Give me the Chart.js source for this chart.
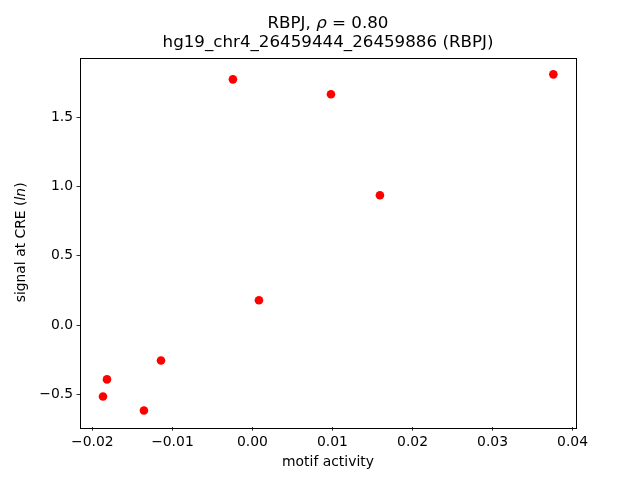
<!DOCTYPE html>
<html>
<head>
<meta charset="utf-8">
<script src="https://cdn.jsdelivr.net/npm/chart.js@4"></script>
<style>
  html, body { margin: 0; padding: 0; background: #fff; }
  #wrap { width: 640px; height: 480px; }
</style>
</head>
<body>
<div id="wrap"><canvas id="scatterChart" width="640" height="480"></canvas></div>
<script>
// motif activity vs signal at CRE
const motifActivity = [-0.00244, 0.00981, 0.0376, 0.01593, 0.00081, -0.01143, -0.01818, -0.01868, -0.01356];
const creSignal = [1.774, 1.666, 1.810, 0.937, 0.179, -0.255, -0.392, -0.515, -0.616];
const xTicks = [-0.02, -0.01, 0.00, 0.01, 0.02, 0.03, 0.04];
const yTicks = [-0.5, 0.0, 0.5, 1.0, 1.5];

const FONT = "'DejaVu Sans', sans-serif";

function fmt(v, d) {
  const s = Math.abs(v).toFixed(d);
  return v < -1e-9 ? '\u2212' + s : s;
}

// frame + titles + axis labels, matplotlib style
const decorations = {
  id: 'decorations',
  afterDraw(chart) {
    const ctx = chart.ctx;
    const a = chart.chartArea;
    ctx.save();
    ctx.strokeStyle = '#000';
    ctx.lineWidth = 1;
    ctx.strokeRect(Math.round(a.left) + 0.5, Math.round(a.top) + 0.5,
      Math.round(a.right - a.left), Math.round(a.bottom - a.top));

    ctx.fillStyle = '#000';
    ctx.textAlign = 'left';
    ctx.textBaseline = 'middle';
    const cx = (a.left + a.right) / 2;

    // title line 1: "RBPJ, ρ = 0.80" with italic rho
    const tSize = 16.7;
    const parts = [
      { t: 'RBPJ, ', f: `${tSize}px ${FONT}` },
      { t: '\u03c1', f: `italic ${tSize}px ${FONT}` },
      { t: ' = 0.80', f: `${tSize}px ${FONT}` }
    ];
    let w = 0;
    parts.forEach(p => { ctx.font = p.f; w += ctx.measureText(p.t).width; });
    let x = cx - w / 2;
    parts.forEach(p => { ctx.font = p.f; ctx.fillText(p.t, x, 24); x += ctx.measureText(p.t).width; });

    ctx.textAlign = 'center';
    ctx.font = `${tSize}px ${FONT}`;
    ctx.fillText('hg19_chr4_26459444_26459886 (RBPJ)', cx, 43);

    // x label
    ctx.font = `13.9px ${FONT}`;
    ctx.fillText('motif activity', cx, 462);

    // y label rotated with italic ln
    ctx.translate(21, (a.top + a.bottom) / 2);
    ctx.rotate(-Math.PI / 2);
    ctx.textAlign = 'left';
    const yparts = [
      { t: 'signal at CRE (', f: `13.9px ${FONT}` },
      { t: 'ln', f: `italic 13.9px ${FONT}` },
      { t: ')', f: `13.9px ${FONT}` }
    ];
    w = 0;
    yparts.forEach(p => { ctx.font = p.f; w += ctx.measureText(p.t).width; });
    x = -w / 2;
    yparts.forEach(p => { ctx.font = p.f; ctx.fillText(p.t, x, 0); x += ctx.measureText(p.t).width; });
    ctx.restore();
  }
};

const ctx = document.getElementById('scatterChart').getContext('2d');
new Chart(ctx, {
  type: 'scatter',
  data: {
    datasets: [{
      data: motifActivity.map((v, i) => ({ x: v, y: creSignal[i] })),
      backgroundColor: '#ff0000',
      borderColor: '#ff0000',
      borderWidth: 0,
      pointRadius: 4.3
    }]
  },
  options: {
    responsive: false,
    animation: false,
    layout: { padding: { top: 57.6, right: 64, left: 0, bottom: 0 } },
    plugins: {
      legend: { display: false },
      tooltip: { enabled: false },
      title: { display: false }
    },
    scales: {
      x: {
        type: 'linear',
        min: -0.02155,
        max: 0.04043,
        afterBuildTicks: axis => { axis.ticks = xTicks.map(v => ({ value: v })); },
        afterFit: axis => { axis.height = 52.8; },
        grid: { display: true, drawOnChartArea: false, drawTicks: true, tickLength: 3.5, color: '#000', tickWidth: 0.8 },
        border: { display: false },
        ticks: {
          color: '#000',
          padding: 3.5,
          maxRotation: 0,
          autoSkip: false,
          font: { family: FONT, size: 13.9 },
          callback: v => fmt(v, 2)
        }
      },
      y: {
        type: 'linear',
        min: -0.737,
        max: 1.931,
        afterBuildTicks: axis => { axis.ticks = yTicks.map(v => ({ value: v })); },
        afterFit: axis => { axis.width = 80; },
        grid: { display: true, drawOnChartArea: false, drawTicks: true, tickLength: 3.5, color: '#000', tickWidth: 0.8 },
        border: { display: false },
        ticks: {
          color: '#000',
          padding: 3.5,
          autoSkip: false,
          font: { family: FONT, size: 13.9 },
          callback: v => fmt(v, 1)
        }
      }
    }
  },
  plugins: [decorations]
});
</script>
</body>
</html>
